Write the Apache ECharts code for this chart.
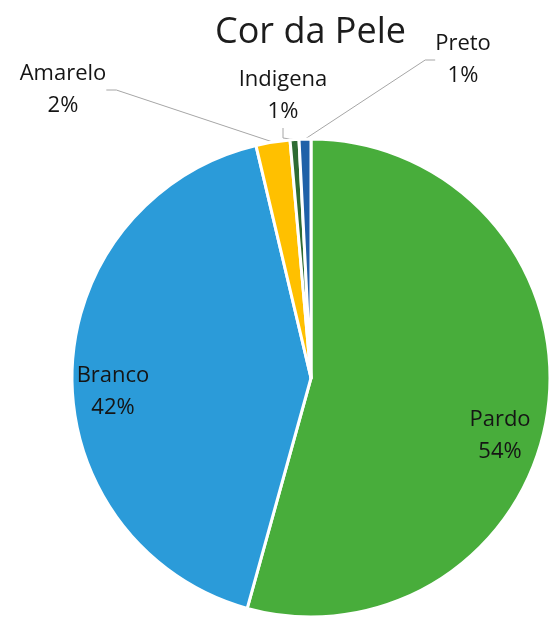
<!DOCTYPE html>
<html>
<head>
<meta charset="utf-8">
<script src="https://cdn.jsdelivr.net/npm/echarts@6/dist/echarts.min.js"></script>
<style>
  html, body { margin: 0; padding: 0; background: #fff; }
  #chart { width: 550px; height: 619px; }
</style>
</head>
<body>
<div id="chart"></div>
<script>
// categorias e valores
const categories = ['Pardo', 'Branco', 'Amarelo', 'Indigena', 'Preto'];
const values = [54.3, 42.0, 2.3, 0.6, 0.8];

// estilo
const colors = ['#48ad3b', '#2b9bd9', '#ffc000', '#2e6b33', '#1f61a8'];
const insideNames = ['Pardo', 'Branco'];
// onde fica o centro de cada rótulo
const labelSpots = [[500, 436], [113, 392], [63, 90], [283, 96], [463, 60]];

let myChart = echarts.init(document.getElementById('chart'));

let data = [];
for (let i = 0; i < categories.length; i++) {
  let inside = insideNames.indexOf(categories[i]) !== -1;
  data[i] = {
    name: categories[i],
    value: values[i],
    itemStyle: { color: colors[i] },
    labelLine: { show: !inside }
  };
}

myChart.setOption({
  animation: false,
  title: {
    text: 'Cor da Pele',
    left: 210,
    top: 10,
    textStyle: {
      fontFamily: 'Open Sans',
      fontSize: 36,
      fontWeight: 'normal',
      color: '#1c1c1c'
    }
  },
  series: [{
    type: 'pie',
    center: [311, 378],
    radius: 239,
    startAngle: 90,
    clockwise: true,
    percentPrecision: 0,
    avoidLabelOverlap: false,
    itemStyle: {
      borderColor: '#fff',
      borderWidth: 3
    },
    label: {
      show: true,
      position: 'outside',
      formatter: '{b}\n{d}%',
      fontFamily: 'Open Sans',
      fontSize: 22,
      lineHeight: 32,
      color: '#151515'
    },
    labelLine: {
      show: true,
      length: 8,
      length2: 10,
      lineStyle: { color: '#a6a6a6', width: 1 }
    },
    labelLayout: function (params) {
      let p = labelSpots[params.dataIndex];
      return { x: p[0], y: p[1], align: 'center', verticalAlign: 'middle' };
    },
    data: data
  }]
});
</script>
</body>
</html>
